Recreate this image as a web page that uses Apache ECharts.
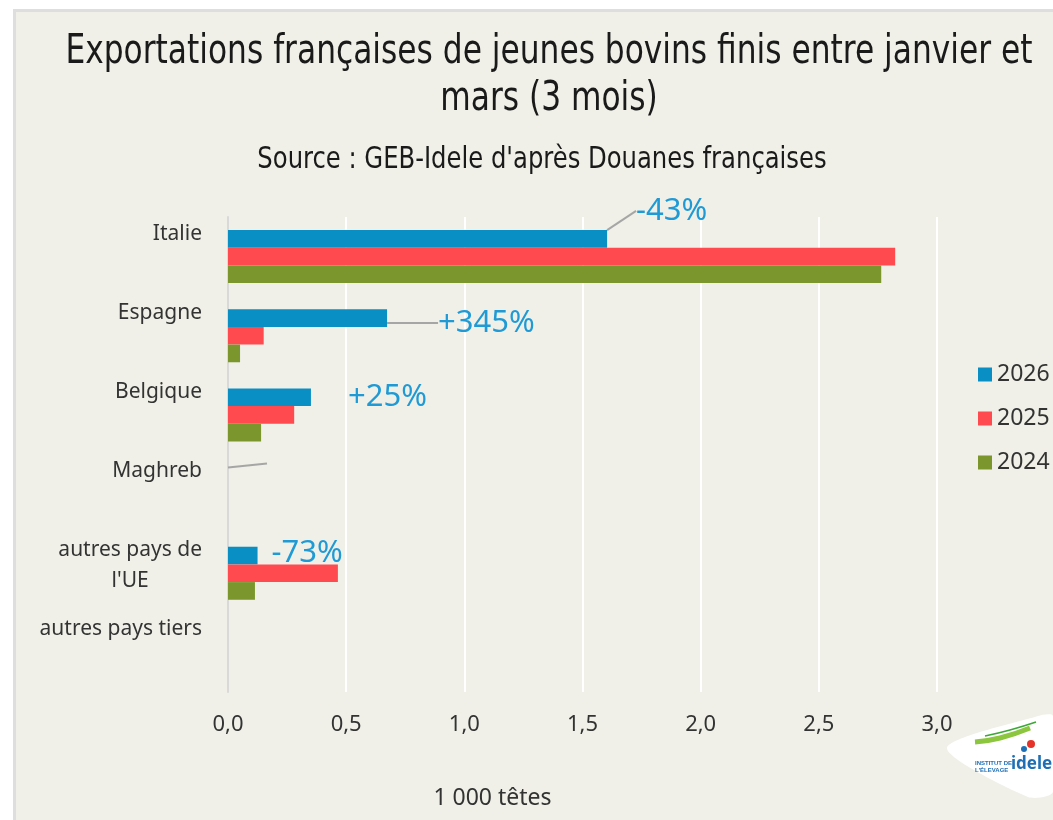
<!DOCTYPE html>
<html>
<head>
<meta charset="utf-8">
<script src="https://cdn.jsdelivr.net/npm/echarts@6/dist/echarts.min.js"></script>
<style>
  html, body { margin: 0; padding: 0; background: #ffffff; }
  #frame { position: absolute; left: 13px; top: 9px; right: 0; bottom: 0;
           background: #f0f0e8; border-left: 3px solid #dedede; border-top: 3px solid #dedede; }
  #chart { position: absolute; left: 0; top: 0; width: 1053px; height: 820px; }
</style>
</head>
<body>
<div id="frame"></div>
<div id="chart"></div>
<script>
// Destinations (top to bottom)
const categories = ['Italie', 'Espagne', 'Belgique', 'Maghreb', 'autres pays de\nl\'UE', 'autres pays tiers'];
// Exports, thousand head, January–March
const values2026 = [1.604, 0.673, 0.351, 0, 0.125, 0];
const values2025 = [2.823, 0.151, 0.280, 0, 0.465, 0];
const values2024 = [2.764, 0.051, 0.140, 0, 0.114, 0];
// Year-on-year change 2026 vs 2025
const changeLabels = ['-43%', '+345%', '+25%', ' ', '-73%', ''];
const xTicks = { min: 0, max: 3, interval: 0.5 };

const titleText = 'Exportations françaises de jeunes bovins finis entre janvier et\nmars (3 mois)';
const subtitleText = 'Source : GEB-Idele d\'après Douanes françaises';

const BODY_FONT = '"Noto Sans", Lato, sans-serif';
const NARROW_FONT = '"Liberation Sans Narrow", "DejaVu Sans Condensed", sans-serif';

// offsets of the change labels from the end of the 2026 bar, and whether a leader line is drawn
const labelShift = [
  { dx: 24, dy: -28, line: true },
  { dx: 46, dy: 5, line: true },
  { dx: 32, dy: 0, line: false },
  { dx: 34, dy: -13, line: true },
  { dx: 9, dy: -2, line: false },
  { dx: 0, dy: 0, line: false }
];

const chart = echarts.init(document.getElementById('chart'), null, { renderer: 'canvas' });

const gridMain = { left: 228, right: 116, top: 217, bottom: 128 };
const gridLabels = { left: 228, right: 116, top: 178.5, bottom: 166.5 };

const data2026 = values2026.map((v, i) => ({
  value: v,
  labelLine: { show: labelShift[i].line }
}));

const option = {
  backgroundColor: 'transparent',
  animation: false,
  legend: {
    orient: 'vertical', left: 973, top: 358,
    itemWidth: 14, itemHeight: 14, itemGap: 21,
    icon: 'rect',
    data: ['2026', '2025', '2024'],
    textStyle: { fontFamily: BODY_FONT, fontSize: 23, color: '#333333' }
  },
  grid: [gridMain, gridLabels],
  xAxis: [
    {
      gridIndex: 0, type: 'value', min: xTicks.min, max: xTicks.max, interval: xTicks.interval,
      axisLine: { show: false }, axisTick: { show: false },
      splitLine: { show: true, lineStyle: { color: '#ffffff', width: 2 } },
      axisLabel: {
        margin: 22, fontFamily: BODY_FONT, fontSize: 22, color: '#333333',
        formatter: v => v.toFixed(1).replace('.', ',')
      },
      name: '1 000 têtes', nameLocation: 'middle', nameGap: 95,
      nameTextStyle: { fontFamily: BODY_FONT, fontSize: 23, color: '#333333', padding: [0, 180, 0, 0] }
    },
    { gridIndex: 1, type: 'value', show: false, min: 0, max: 3 }
  ],
  yAxis: [
    {
      gridIndex: 0, type: 'category', data: categories, inverse: true,
      axisLine: { show: true, lineStyle: { color: '#d9d9d9', width: 2 } },
      axisTick: { show: false },
      axisLabel: { show: false }
    },
    {
      gridIndex: 1, type: 'category', data: categories, inverse: true,
      axisLine: { show: false }, axisTick: { show: false },
      axisLabel: {
        margin: 26, verticalAlign: 'top',
        formatter: v => v.split('\n').map(s => '{c|' + s + '}').join('\n'),
        rich: { c: { fontFamily: BODY_FONT, fontSize: 21, color: '#333333', lineHeight: 31, align: 'center' } }
      }
    }
  ],
  series: [
    {
      name: '2026', type: 'bar', xAxisIndex: 0, yAxisIndex: 0,
      data: data2026, barGap: '0%', barCategoryGap: '33%',
      itemStyle: { color: '#0a8fc5' },
      label: {
        show: true, position: 'right', distance: 5,
        formatter: p => changeLabels[p.dataIndex],
        fontFamily: BODY_FONT, fontSize: 31, color: '#1f9ad5'
      },
      labelLine: { show: true, lineStyle: { color: '#a6a6a6', width: 2 } },
      labelLayout: p => ({ dx: labelShift[p.dataIndex].dx, dy: labelShift[p.dataIndex].dy }),
      emphasis: { disabled: true }
    },
    {
      name: '2025', type: 'bar', xAxisIndex: 0, yAxisIndex: 0,
      data: values2025, barGap: '0%', barCategoryGap: '33%',
      itemStyle: { color: '#ff4b4f' }, emphasis: { disabled: true }
    },
    {
      name: '2024', type: 'bar', xAxisIndex: 0, yAxisIndex: 0,
      data: values2024, barGap: '0%', barCategoryGap: '33%',
      itemStyle: { color: '#7a962c' }, emphasis: { disabled: true }
    }
  ],
  graphic: [
    // title and source line, set in a narrowed face
    {
      type: 'text', x: 549, y: 29, scaleX: 0.869, z: 5,
      style: { text: titleText, align: 'center', verticalAlign: 'top', fontFamily: NARROW_FONT,
               fontSize: 40, lineHeight: 47, fill: '#1a1a1a' }
    },
    {
      type: 'text', x: 542, y: 144, scaleX: 0.9, z: 5,
      style: { text: subtitleText, align: 'center', verticalAlign: 'top', fontFamily: NARROW_FONT,
               fontSize: 30, lineHeight: 32, fill: '#1a1a1a' }
    },
    // logo
    {
      type: 'polygon', z: 10,
      shape: { points: [[947, 748], [1038, 716], [1053, 716], [1053, 792], [1028, 797]], smooth: 0.25 },
      style: { fill: '#ffffff' }
    },
    {
      type: 'polyline', z: 11,
      shape: { points: [[975, 742], [1000, 738], [1030, 728]], smooth: 0.5 },
      style: { stroke: '#8cc63f', lineWidth: 5, fill: null }
    },
    {
      type: 'polyline', z: 11,
      shape: { points: [[985, 736], [1010, 730], [1036, 722]], smooth: 0.5 },
      style: { stroke: '#3aaa35', lineWidth: 1.5, fill: null }
    },
    {
      type: 'text', z: 11, left: 975, top: 760,
      style: { text: 'INSTITUT DE\nL\'ÉLEVAGE', fontSize: 6, fontWeight: 'bold', fill: '#1f6fb5', lineHeight: 7 }
    },
    {
      type: 'text', z: 11, left: 1011, top: 756,
      style: { text: 'idele', fontSize: 17, fontWeight: 'bold', fill: '#1f6fb5', fontFamily: BODY_FONT }
    },
    {
      type: 'circle', z: 11, shape: { cx: 1031, cy: 744, r: 4 }, style: { fill: '#e63329' }
    },
    {
      type: 'circle', z: 11, shape: { cx: 1024, cy: 749, r: 3 }, style: { fill: '#1f6fb5' }
    }
  ]
};

chart.setOption(option);
</script>
</body>
</html>
